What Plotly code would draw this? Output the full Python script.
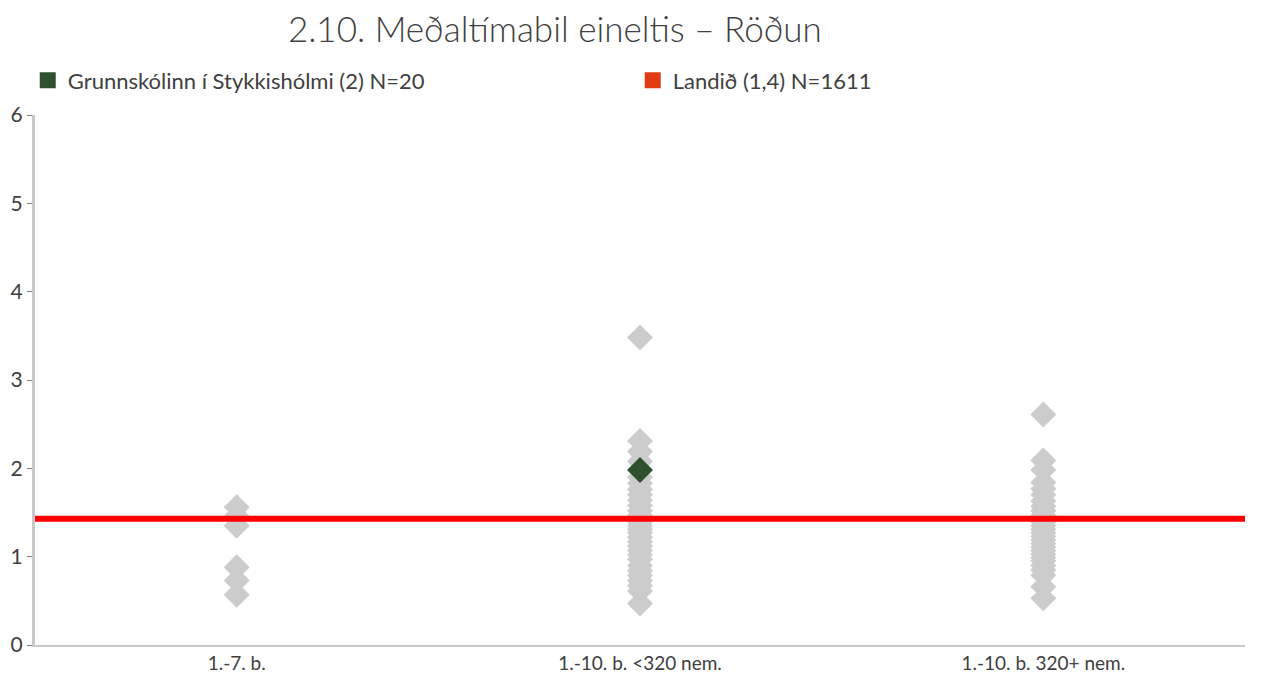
import plotly.graph_objects as go

categories = ["1.-7. b.", "1.-10. b. <320 nem.", "1.-10. b. 320+ nem."]

group1_values = [1.56, 1.46, 1.35, 0.88, 0.73, 0.57]
group2_values = [3.48, 2.31, 2.19, 2.08, 1.9, 1.83, 1.76, 1.7, 1.64, 1.58, 1.52, 1.47, 1.43, 1.39,
                 1.35, 1.31, 1.27, 1.22, 1.17, 1.12, 1.07, 1.02, 0.97, 0.9, 0.84, 0.79, 0.73,
                 0.67, 0.61, 0.47]
group3_values = [2.61, 2.09, 1.98, 1.84, 1.77, 1.7, 1.63, 1.57, 1.52, 1.47, 1.43, 1.39, 1.35,
                 1.31, 1.27, 1.23, 1.19, 1.15, 1.11, 1.07, 1.03, 0.99, 0.95, 0.9, 0.85, 0.79,
                 0.66, 0.53]

school_name = "Grunnskólinn í Stykkishólmi (2) N=20"
school_category = "1.-10. b. <320 nem."
school_value = 1.98

national_name = "Landið (1,4) N=1611"
national_value = 1.43

fig = go.Figure()

grey = "#cccccc"
for cat, vals in zip(categories, [group1_values, group2_values, group3_values]):
    fig.add_trace(go.Scatter(
        x=[cat] * len(vals), y=vals, mode="markers",
        marker=dict(symbol="diamond", size=20, color=grey, line=dict(width=0)),
        showlegend=False, hoverinfo="y"))

# National average line across full width
fig.add_trace(go.Scatter(
    x=[-0.5, 2.5], y=[national_value, national_value], mode="lines",
    line=dict(color="#ff0000", width=6), showlegend=False, xaxis="x2", hoverinfo="skip"))

fig.add_trace(go.Scatter(
    x=[school_category], y=[school_value], mode="markers", name=school_name,
    marker=dict(symbol="diamond", size=20, color="#2f5130", line=dict(width=0)),
    showlegend=False))

# legend entries
fig.add_trace(go.Scatter(
    x=[None], y=[None], mode="markers", name=school_name,
    marker=dict(symbol="square", size=17, color="#2f5130")))
fig.add_trace(go.Scatter(
    x=[None], y=[None], mode="markers", name=national_name,
    marker=dict(symbol="square", size=17, color="#e03c14")))

fig.update_layout(
    width=1261, height=675,
    margin=dict(l=35, r=16, t=115, b=30, autoexpand=False),
    paper_bgcolor="white", plot_bgcolor="white",
    font=dict(family="Lato", color="#404040", size=20),
    title=dict(text="2.10. Meðaltímabil eineltis – Röðun", x=0.44, xanchor="center",
               y=0.956, yanchor="middle", xref="container", yref="container",
               font=dict(size=35, color="#404040", family="Lato", weight=300)),
    legend=dict(orientation="h", xref="container", yref="container",
                x=0.022, xanchor="left", y=0.881, yanchor="middle",
                entrywidth=560, entrywidthmode="pixels", itemwidth=30,
                font=dict(size=22, color="#404040"), tracegroupgap=0),
    xaxis=dict(type="category", categoryorder="array", categoryarray=categories,
               range=[-0.5, 2.5], showline=True, linecolor="#c8c8c8", linewidth=2,
               ticks="", showgrid=False, zeroline=False, tickfont=dict(size=19),
               automargin=False),
    xaxis2=dict(range=[-0.5, 2.5], overlaying="x", visible=False),
    yaxis=dict(range=[0, 6], dtick=1, showline=True, linecolor="#c8c8c8", linewidth=3,
               ticks="outside", ticklen=5, tickcolor="#808080", showgrid=False,
               zeroline=False, tickfont=dict(size=21), automargin=False),
)

fig.write_html("out.html", config={"displayModeBar": False},
               post_script="document.body.style.margin='0';")
